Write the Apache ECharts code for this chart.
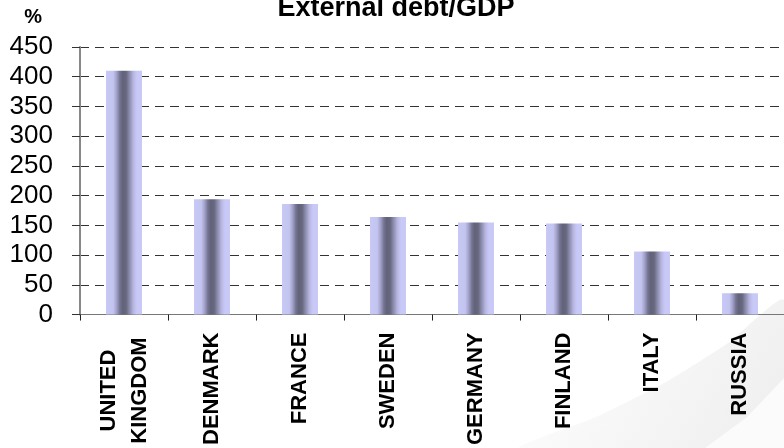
<!DOCTYPE html>
<html>
<head>
<meta charset="utf-8">
<script src="https://cdn.jsdelivr.net/npm/echarts@6/dist/echarts.min.js"></script>
<style>
  html, body { margin: 0; padding: 0; background: #fff; }
  #main { width: 784px; height: 448px; }
</style>
</head>
<body>
<div id="main"></div>
<script>
// 数据
var countries = ['UNITED\nKINGDOM', 'DENMARK', 'FRANCE', 'SWEDEN', 'GERMANY', 'FINLAND', 'ITALY', 'RUSSIA'];
var debtGdp = [410, 194, 186, 164, 155, 153, 106, 36];
var yTicks = [0, 450, 50]; // min, max, interval

var myChart = echarts.init(document.getElementById('main'));

var barColor = {
    type: 'linear', x: 0, y: 0, x2: 1, y2: 0,
    colorStops: [
        { offset: 0, color: '#c9c9f7' },
        { offset: 0.2, color: '#c4c4f0' },
        { offset: 0.3, color: '#9f9fc6' },
        { offset: 0.38, color: '#767696' },
        { offset: 0.46, color: '#626279' },
        { offset: 0.56, color: '#67677f' },
        { offset: 0.66, color: '#8f8fb2' },
        { offset: 0.76, color: '#b6b6e0' },
        { offset: 0.86, color: '#c9c9f7' },
        { offset: 1, color: '#c9c9f7' }
    ]
};

// 分类标签，两行的居中
var catData = countries.map(function (c) {
    if (c.indexOf('\n') < 0) return c;
    return { value: c, textStyle: { align: 'center', padding: [0, 116, 0, 0] } };
});

var option = {
    backgroundColor: '#fff',
    textStyle: { fontFamily: 'Liberation Sans, Arial, sans-serif' },
    // 背景右下角的浅灰色弧形
    graphic: [
        {
            type: 'polygon', z: -10, silent: true,
            shape: { points: [[520, 448], [596, 417], [666, 382], [728, 343], [784, 300], [784, 448]], smooth: 0.2 },
            style: {
                fill: new echarts.graphic.LinearGradient(0, 0, 1, 1, [
                    { offset: 0, color: '#ffffff' }, { offset: 1, color: '#ededed' }
                ])
            }
        },
        {
            type: 'polygon', z: -9, silent: true,
            shape: { points: [[705, 448], [747, 417], [784, 378], [784, 448]] },
            style: { fill: '#fbfbfb' }
        }
    ],
    title: {
        text: 'External debt/GDP',
        left: 391,
        textAlign: 'center',
        top: -10,
        textStyle: { fontSize: 27, fontWeight: 'bold', color: '#000', fontFamily: 'Liberation Sans' }
    },
    grid: { left: 80, right: 0, top: 47, bottom: 130 },
    xAxis: {
        type: 'category',
        data: catData,
        axisLine: { lineStyle: { color: '#777', width: 1 } },
        axisTick: { show: true, length: 6, lineStyle: { color: '#222' } },
        axisLabel: {
            rotate: 90,
            interval: 0,
            margin: 18,
            fontSize: 22,
            fontWeight: 'bold',
            color: '#000',
            lineHeight: 31
        }
    },
    yAxis: {
        type: 'value',
        min: yTicks[0],
        max: yTicks[1],
        interval: yTicks[2],
        name: '%',
        nameLocation: 'end',
        nameGap: 30,
        nameTextStyle: {
            fontSize: 20, fontWeight: 'bold', color: '#000',
            align: 'right', verticalAlign: 'middle', padding: [0, 38, 0, 0]
        },
        axisLine: { show: true, lineStyle: { color: '#888', width: 2 } },
        axisTick: { show: true, length: 8, lineStyle: { color: '#333' } },
        axisLabel: { fontSize: 26, color: '#000', margin: 27 },
        splitLine: { lineStyle: { color: '#333', type: [9, 6], width: 1 } }
    },
    series: [{
        type: 'bar',
        data: debtGdp,
        barWidth: 36,
        itemStyle: { color: barColor },
        silent: true
    }]
};

myChart.setOption(option);
</script>
</body>
</html>
